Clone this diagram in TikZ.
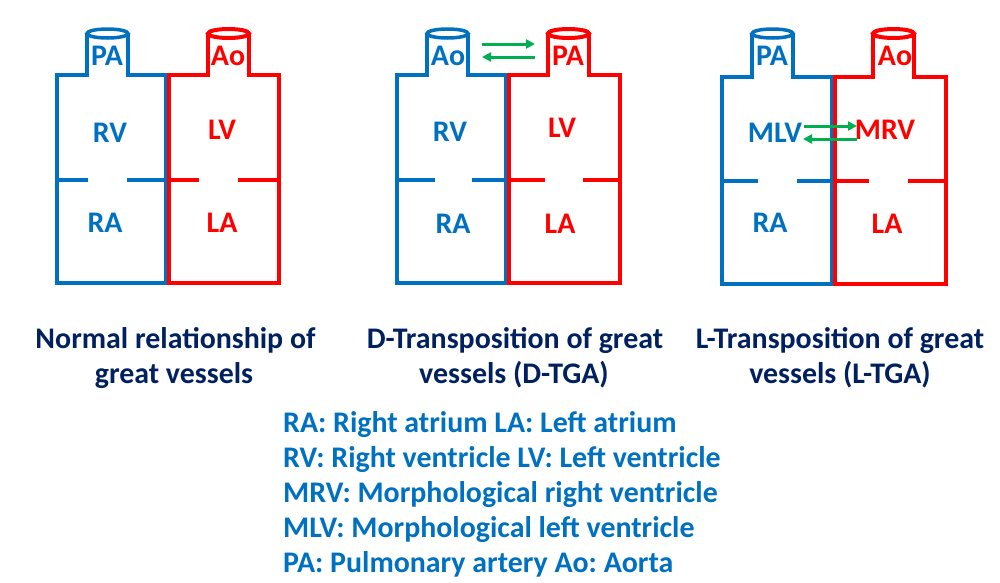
\documentclass[tikz,border=0pt]{standalone}
\usepackage{fontspec}
\setmainfont{Carlito}
\usetikzlibrary{arrows.meta}
\definecolor{hblue}{HTML}{0070C0}
\definecolor{hred}{HTML}{FF0000}
\definecolor{hnavy}{HTML}{002060}
\definecolor{hgreen}{HTML}{00B050}
\frenchspacing
\begin{document}
\begin{tikzpicture}[x=1pt,y=-1pt,
  lbl/.style={font=\fontsize{29.9}{35}\selectfont\bfseries\frenchspacing, inner sep=0pt, anchor=base},
  blbl/.style={lbl, text=hblue},
  rlbl/.style={lbl, text=hred},
  caption/.style={lbl, text=hnavy},
  legend/.style={lbl, text=hblue, anchor=base west},
  bwall/.style={draw=hblue, line width=3.5pt, line join=miter},
  rwall/.style={draw=hred, line width=4pt, line join=miter},
  flow/.style={draw=hgreen, line width=3pt, -{Triangle[length=9pt,width=9pt]}},
]
\useasboundingbox (0,0) rectangle (1000,582);

% ---------- Panel 1: normal ----------
\draw[bwall] (87,33.5) -- (87,75) -- (57,75) -- (57,283) -- (166,283) -- (166,75) -- (128,75) -- (128,33.5);
\draw[bwall] (107.5,33.5) ellipse [x radius=20.5, y radius=4.5];
\draw[bwall] (57,180) -- (88,180) (127,180) -- (166,180);
\draw[rwall] (208,33.5) -- (208,75) -- (169,75) -- (169,283) -- (279,283) -- (279,75) -- (249,75) -- (249,33.5);
\draw[rwall] (228.5,33.5) ellipse [x radius=20.5, y radius=4.5];
\draw[rwall] (169,180) -- (199,180) (238,180) -- (279,180);
\node[blbl] (p1pa) at (107,65) {PA};
\node[rlbl] (p1ao) at (228,65) {Ao};
\node[blbl] (p1rv) at (110,142) {RV};
\node[rlbl] (p1lv) at (222,139) {LV};
\node[blbl] (p1ra) at (105,232) {RA};
\node[rlbl] (p1la) at (222,232) {LA};

% ---------- Panel 2: D-TGA ----------
\draw[bwall] (427,33.5) -- (427,75) -- (397,75) -- (397,283) -- (506,283) -- (506,75) -- (468,75) -- (468,33.5);
\draw[bwall] (447.5,33.5) ellipse [x radius=20.5, y radius=4.5];
\draw[bwall] (397,180) -- (435,180) (472,180) -- (506,180);
\draw[rwall] (548,33.5) -- (548,75) -- (509,75) -- (509,283) -- (620,283) -- (620,75) -- (589,75) -- (589,33.5);
\draw[rwall] (568.5,33.5) ellipse [x radius=20.5, y radius=4.5];
\draw[rwall, line width=4.5pt] (509,180) -- (545,180) (583,180) -- (620,180);
\node[blbl] (p2ao) at (448,65) {Ao};
\node[rlbl] (p2pa) at (568,65) {PA};
\node[blbl] (p2rv) at (450,141) {RV};
\node[rlbl] (p2lv) at (562,137) {LV};
\node[blbl] (p2ra) at (453,233) {RA};
\node[rlbl] (p2la) at (560,233) {LA};
\coordinate (d1s) at (482,44);
\coordinate (d1e) at (535,44);
\coordinate (d2s) at (535,57);
\coordinate (d2e) at (482,57);
\draw[flow] (d1s) -- (d1e);
\draw[flow] (d2s) -- (d2e);

% ---------- Panel 3: L-TGA ----------
\draw[bwall] (752,33.5) -- (752,77) -- (722,77) -- (722,284) -- (832,284) -- (832,77) -- (793,77) -- (793,33.5);
\draw[bwall] (772.5,33.5) ellipse [x radius=20.5, y radius=4.5];
\draw[bwall] (722,181) -- (758,181) (797,181) -- (832,181);
\draw[rwall] (873,33.5) -- (873,77) -- (835,77) -- (835,284) -- (946,284) -- (946,77) -- (914,77) -- (914,33.5);
\draw[rwall] (893.5,33.5) ellipse [x radius=20.5, y radius=4.5];
\draw[rwall] (835,181) -- (869,181) (908,181) -- (946,181);
\node[blbl] (p3pa) at (772,65) {PA};
\node[rlbl] (p3ao) at (895,65) {Ao};
\node[blbl] (p3mlv) at (775,142) {MLV};
\node[rlbl] (p3mrv) at (885,139) {MRV};
\node[blbl] (p3ra) at (770,232) {RA};
\node[rlbl] (p3la) at (887,233) {LA};
\coordinate (l1s) at (804,126);
\coordinate (l1e) at (857,126);
\coordinate (l2s) at (857,139);
\coordinate (l2e) at (803,139);
\draw[flow] (l1s) -- (l1e);
\draw[flow] (l2s) -- (l2e);

% ---------- Captions ----------
\node[caption] (c1a) at (175.5,348) {Normal relationship of};
\node[caption] (c1b) at (174,383) {great vessels};
\node[caption] (c2a) at (515,348) {D-Transposition of great};
\node[caption] (c2b) at (514,383) {vessels (D-TGA)};
\node[caption] (c3a) at (840,348) {L-Transposition of great};
\node[caption] (c3b) at (840,383) {vessels (L-TGA)};

% ---------- Legend ----------
\node[legend] (g1) at (283,432) {RA: Right atrium LA: Left atrium};
\node[legend] (g2) at (283,467) {RV: Right ventricle LV: Left ventricle};
\node[legend] (g3) at (283,502) {MRV: Morphological right ventricle};
\node[legend] (g4) at (283,537) {MLV: Morphological left ventricle};
\node[legend] (g5) at (283,572) {PA: Pulmonary artery Ao: Aorta};
\end{tikzpicture}
\end{document}
